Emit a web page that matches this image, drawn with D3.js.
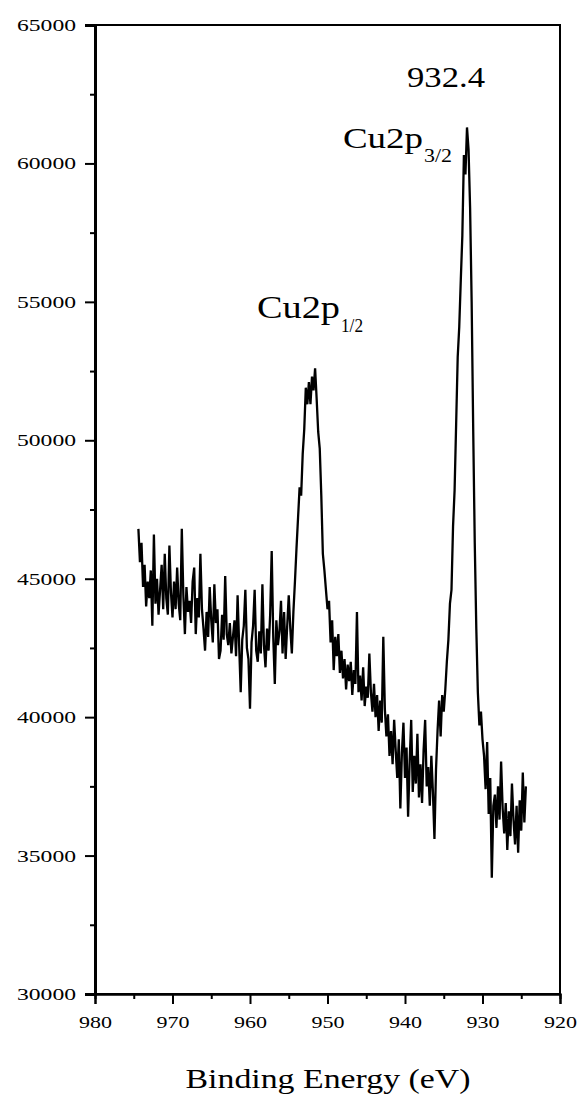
<!DOCTYPE html>
<html>
<head>
<meta charset="utf-8">
<script src="https://cdn.jsdelivr.net/npm/d3@7"></script>
<style>
  body { margin: 0; background: #fff; }
  svg { display: block; }
</style>
</head>
<body>
<div id="container"></div>
<script>
// spectrum sampled every 0.2 eV, from 974.4 eV down to 924.4 eV
const eStart = 974.4;
const eStep = 0.2;
const counts = [
    46800, 45600, 46300, 44700, 45500, 44000, 44900, 44300, 45300, 43300, // 974.4
    46600, 44100, 45000, 43700, 44600, 45500, 43900, 45900, 44300, 43700, // 972.4
    46200, 44500, 43600, 44900, 43900, 45400, 44100, 43500, 46800, 44400, // 970.4
    43000, 44700, 43800, 44200, 43400, 44900, 45400, 43000, 44300, 43600, // 968.4
    45900, 43900, 43200, 42400, 43800, 42900, 44700, 43500, 42700, 44800, // 966.4
    43400, 43900, 42100, 42400, 43700, 42800, 45100, 43000, 42600, 43400, // 964.4
    42300, 42900, 43500, 42200, 44400, 42600, 40900, 42800, 43300, 44600, // 962.4
    42500, 42100, 40300, 42700, 43300, 44600, 42400, 42000, 43100, 42300, // 960.4
    44800, 42600, 41800, 43200, 42400, 43700, 46000, 42900, 41200, 43500, // 958.4
    42600, 43100, 44200, 42300, 43800, 42100, 43300, 44400, 43200, 42300, // 956.4
    43800, 44900, 46100, 47200, 48300, 48000, 49500, 50400, 51900, 51300, // 954.4
    52100, 51300, 52300, 51800, 52600, 51500, 50300, 49700, 48000, 45900, // 952.4
    45300, 44600, 43900, 44200, 42700, 43500, 41700, 42900, 42200, 43000, // 950.4
    41600, 42400, 41400, 42100, 41000, 41900, 41300, 42000, 40800, 41700, // 948.4
    41200, 43800, 40900, 41500, 40600, 41800, 40400, 41100, 40700, 42300, // 946.4
    40900, 40200, 41200, 40000, 40800, 39500, 40600, 39800, 42900, 40300, // 944.4
    39300, 40100, 38600, 39500, 38300, 39900, 38800, 37800, 39200, 36700, // 942.4
    38700, 39800, 37800, 38900, 36400, 38400, 39900, 37300, 38600, 37600, // 940.4
    39400, 37100, 38300, 36900, 38800, 39900, 37500, 38200, 36800, 38600, // 938.4
    37300, 35600, 38100, 39500, 40600, 39300, 40800, 40200, 41000, 42000, // 936.4
    42800, 44100, 44600, 46900, 48200, 50600, 53000, 54100, 55800, 57400, // 934.4
    60300, 59600, 61300, 60500, 58400, 55000, 50400, 46300, 43200, 40900, // 932.4
    39700, 40200, 39200, 38600, 37400, 39100, 36500, 37800, 34200, 36800, // 930.4
    37200, 36000, 37500, 36300, 38400, 36700, 35800, 36900, 35200, 36600, // 928.4
    35700, 37600, 36300, 35400, 36800, 35100, 37000, 35900, 38000, 36200, // 926.4
    37500                                                                  // 924.4
];

const xTicks = [980, 970, 960, 950, 940, 930, 920];
const xMinor = [975, 965, 955, 945, 935, 925];
const yTicks = [30000, 35000, 40000, 45000, 50000, 55000, 60000, 65000];
const yMinor = [32500, 37500, 42500, 47500, 52500, 57500, 62500];

const width = 577;
const height = 1098;
const margin = { top: 25, right: 17, bottom: 104, left: 95 };
const font = '"Liberation Serif", Tinos, "Times New Roman", Times, serif';

const svg = d3.select('#container').append('svg')
    .attr('width', width)
    .attr('height', height)
    .attr('font-family', font);

svg.append('rect').attr('width', width).attr('height', height).attr('fill', '#fff');

const x = d3.scaleLinear().domain([980, 920]).range([margin.left, width - margin.right]);
const y = d3.scaleLinear().domain([30000, 65000]).range([height - margin.bottom, margin.top]);

const data = counts.map((c, i) => ({ e: eStart - i * eStep, c: c }));

// frame
svg.append('rect')
    .attr('x', x(980))
    .attr('y', y(65000))
    .attr('width', x(920) - x(980))
    .attr('height', y(30000) - y(65000))
    .attr('fill', 'none')
    .attr('stroke', '#000')
    .attr('stroke-width', 2);

// y axis
const gy = svg.append('g').attr('transform', `translate(${x(980)},0)`);
gy.call(d3.axisLeft(y).tickValues(yTicks).tickFormat(d3.format('d')).tickSize(10).tickPadding(9));
gy.append('g').call(d3.axisLeft(y).tickValues(yMinor).tickFormat('').tickSize(5));
gy.attr('font-family', font);
gy.selectAll('.domain').attr('stroke-width', 3);
gy.selectAll('line').attr('stroke-width', 2);
gy.selectAll('text')
    .attr('font-size', 17)
    .attr('textLength', 59)
    .attr('lengthAdjust', 'spacingAndGlyphs');

// x axis
const gx = svg.append('g').attr('transform', `translate(0,${y(30000)})`);
gx.call(d3.axisBottom(x).tickValues(xTicks).tickFormat(d3.format('d')).tickSize(10).tickPadding(12));
gx.append('g').call(d3.axisBottom(x).tickValues(xMinor).tickFormat('').tickSize(5));
gx.attr('font-family', font);
gx.selectAll('.domain').attr('stroke-width', 2);
gx.selectAll('line').attr('stroke-width', 2);
gx.selectAll('text')
    .attr('font-size', 17)
    .attr('textLength', 33)
    .attr('lengthAdjust', 'spacingAndGlyphs');

// spectrum
const line = d3.line()
    .x(d => x(d.e))
    .y(d => y(d.c));

svg.append('path')
    .datum(data)
    .attr('d', line)
    .attr('fill', 'none')
    .attr('stroke', '#000')
    .attr('stroke-width', 2.3)
    .attr('stroke-linejoin', 'miter');

// annotations
svg.append('text')
    .attr('x', 407)
    .attr('y', 87)
    .attr('font-size', 30)
    .attr('textLength', 78)
    .attr('lengthAdjust', 'spacingAndGlyphs')
    .text('932.4');

function peakLabel(px, py, big, w, sub, sw) {
    const t = svg.append('text')
        .attr('x', px)
        .attr('y', py)
        .attr('font-size', big);
    t.append('tspan').attr('textLength', w).attr('lengthAdjust', 'spacingAndGlyphs').text('Cu2p');
    t.append('tspan').attr('x', px + w + 1).attr('dy', 14).attr('font-size', 19)
        .attr('textLength', sw).attr('lengthAdjust', 'spacingAndGlyphs').text(sub);
}
peakLabel(343, 148, 29, 80, '3/2', 28);
peakLabel(257, 318, 31, 83, '1/2', 22);

// axis title
svg.append('text')
    .attr('x', x(950) - 142)
    .attr('y', 1088)
    .attr('font-size', 28)
    .attr('textLength', 285)
    .attr('lengthAdjust', 'spacingAndGlyphs')
    .text('Binding Energy (eV)');
</script>
</body>
</html>
